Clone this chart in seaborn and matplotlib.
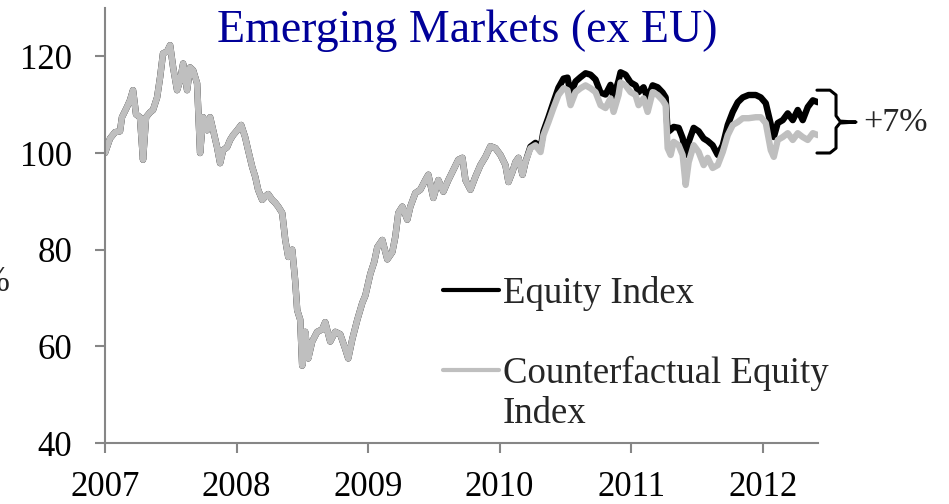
import seaborn as sns
import pandas as pd
import matplotlib.pyplot as plt
from matplotlib.lines import Line2D

# fractional years
years = [
    2007.000, 2007.038, 2007.076, 2007.114, 2007.129, 2007.167, 2007.190, 2007.213, 2007.236, 2007.266,
    2007.289, 2007.312, 2007.342, 2007.365, 2007.396, 2007.419, 2007.441, 2007.472, 2007.495, 2007.518,
    2007.548, 2007.571, 2007.594, 2007.624, 2007.647, 2007.670, 2007.700, 2007.723, 2007.746, 2007.776,
    2007.799, 2007.822, 2007.852, 2007.875, 2007.898, 2007.928, 2007.951, 2007.974, 2008.005, 2008.035,
    2008.065, 2008.088, 2008.119, 2008.142, 2008.164, 2008.195, 2008.218, 2008.240, 2008.271, 2008.294,
    2008.317, 2008.347, 2008.370, 2008.393, 2008.423, 2008.446, 2008.461, 2008.484, 2008.499, 2008.522,
    2008.545, 2008.575, 2008.613, 2008.651, 2008.674, 2008.712, 2008.750, 2008.788, 2008.826, 2008.849,
    2008.880, 2008.918, 2008.956, 2008.979, 2009.017, 2009.047, 2009.070, 2009.108, 2009.146, 2009.184,
    2009.207, 2009.230, 2009.260, 2009.298, 2009.321, 2009.359, 2009.397, 2009.435, 2009.458, 2009.496,
    2009.534, 2009.572, 2009.610, 2009.648, 2009.686, 2009.717, 2009.740, 2009.778, 2009.816, 2009.854,
    2009.892, 2009.930, 2009.968, 2010.006, 2010.044, 2010.067, 2010.097, 2010.120, 2010.143, 2010.174,
    2010.196,
    2010.234, 2010.272, 2010.311, 2010.333, 2010.371, 2010.409, 2010.447, 2010.486, 2010.516, 2010.539,
    2010.577, 2010.615, 2010.653, 2010.691, 2010.729, 2010.767, 2010.805, 2010.843, 2010.866, 2010.904,
    2010.919, 2010.957, 2010.995, 2011.033, 2011.056, 2011.094, 2011.125, 2011.163, 2011.201, 2011.239,
    2011.262, 2011.277, 2011.300, 2011.323, 2011.361, 2011.391, 2011.414, 2011.437, 2011.475, 2011.513,
    2011.551, 2011.581, 2011.619, 2011.658, 2011.696, 2011.734, 2011.772, 2011.810, 2011.848, 2011.893,
    2011.947, 2011.985, 2012.023, 2012.061, 2012.084, 2012.114, 2012.152, 2012.190, 2012.228, 2012.266,
    2012.304, 2012.342, 2012.381, 2012.419,
]

counterfactual = [
    100.0, 103.0, 104.3, 104.5, 107.4, 109.5, 110.9, 113.0, 108.0, 107.4,
    98.6, 107.4, 108.4, 108.9, 111.5, 115.7, 120.6, 121.0, 122.3, 117.7,
    113.0, 115.0, 118.5, 113.0, 117.7, 117.1, 114.4, 100.0, 107.4, 104.7,
    107.4, 104.7, 101.2, 97.9, 100.6, 101.2, 102.7, 103.7, 104.7, 105.8,
    103.3, 100.6, 97.1, 95.1, 92.4, 90.3, 91.0, 91.5, 90.3, 89.7,
    88.9, 87.6, 82.1, 78.5, 80.0, 73.5, 67.5, 65.5, 56.0, 63.0,
    57.5, 61.0, 63.0, 63.5, 65.0, 61.0, 63.0, 62.5, 59.5, 57.5,
    61.5, 65.5, 69.0, 70.5, 75.0, 77.5, 80.5, 82.0, 78.0, 79.5,
    82.7, 87.6, 88.9, 86.2, 88.9, 91.7, 92.4, 94.4, 95.5, 90.7,
    94.4, 92.0, 94.4, 96.5, 98.6, 99.0, 94.4, 92.4, 95.1, 97.5,
    99.2, 101.4, 101.0, 99.6, 97.5, 94.0, 96.1, 98.1, 99.0, 95.5,
    98.1,
    101.0, 101.6, 100.2, 103.7, 106.4, 109.3, 112.0, 113.4, 113.0, 109.9,
    112.6, 113.4, 114.0, 113.4, 112.6, 109.9, 109.3, 111.3, 108.5, 112.0,
    114.6, 114.0, 112.6, 112.0, 109.9, 111.3, 108.5, 112.6, 112.0, 110.9,
    109.9, 101.0, 99.6, 102.3, 101.6, 99.6, 93.4, 98.1, 101.6, 100.2,
    97.5, 99.0, 96.9, 97.5, 100.2, 103.7, 105.8, 106.4, 107.2, 107.2,
    107.4, 107.4, 106.2, 100.6, 99.2, 102.7, 103.3, 104.1, 102.7, 104.1,
    103.3, 102.7, 104.1, 103.7,
]

# equity index separates from the counterfactual from spring 2010 on
equity_tail = [
    101.3, 102.1, 101.0, 104.5, 107.4, 110.5, 113.5, 115.4, 115.6, 112.2,
    114.8, 115.7, 116.5, 116.2, 115.2, 112.5, 112.1, 114.1, 111.5, 115.0,
    116.7, 116.2, 114.6, 114.0, 112.6, 113.6, 111.3, 114.0, 113.6, 112.5,
    111.5, 104.3, 104.8, 105.4, 105.2, 103.1, 99.6, 102.3, 105.2, 104.5,
    103.0, 102.5, 101.6, 99.6, 101.6, 105.8, 108.5, 110.5, 111.5, 112.0,
    112.0, 111.5, 110.3, 106.0, 103.3, 106.2, 106.8, 108.2, 106.8, 108.9,
    106.8, 109.5, 110.9, 110.5,
]

year_ticks = [2007, 2008, 2009, 2010, 2011, 2012]
value_ticks = [40, 60, 80, 100, 120]

split = len(years) - len(equity_tail)
equity = counterfactual[:split] + equity_tail

df = pd.concat([
    pd.DataFrame({"year": years, "value": equity, "series": "Equity Index"}),
    pd.DataFrame({"year": years, "value": counterfactual, "series": "Counterfactual Equity Index"}),
])

sns.set_style("ticks")
plt.rcParams["font.family"] = ["Liberation Serif", "DejaVu Serif"]

gray = "#bfbfbf"
axis_gray = "#868686"

fig = plt.figure(figsize=(9.49, 5.04), dpi=100)
ax = fig.add_axes([105 / 949, 61 / 504, 713 / 949, 435 / 504])

sns.lineplot(data=df, x="year", y="value", hue="series",
             hue_order=["Equity Index", "Counterfactual Equity Index"],
             palette={"Equity Index": "black", "Counterfactual Equity Index": gray},
             estimator=None, sort=False, linewidth=4.6, legend=False, ax=ax)
for ln in ax.get_lines():
    ln.set_solid_joinstyle("round")
    ln.set_solid_capstyle("round")

ax.set_xlim(2007, 2012.42)
ax.set_ylim(40, 130)
ax.set_xticks(year_ticks)
ax.set_xticklabels([str(y) for y in year_ticks])
ax.set_yticks(value_ticks)
ax.set_xlabel("")
ax.set_ylabel("%", rotation=0, fontsize=25, ha="center", va="center")
ax.yaxis.set_label_coords(-0.154, 0.368)

for side in ["top", "right"]:
    ax.spines[side].set_visible(False)
for side in ["left", "bottom"]:
    ax.spines[side].set_color(axis_gray)
    ax.spines[side].set_linewidth(1.5)
ax.tick_params(axis="both", direction="out", length=7, width=1.5,
               color=axis_gray, labelcolor="black", labelsize=25)
ax.tick_params(axis="y", pad=16.5)
ax.tick_params(axis="x", pad=13)

fig.text(467 / 949, 1 - 42 / 504, "Emerging Markets (ex EU)", ha="center",
         va="baseline", fontsize=33, color="#000099")

handles = [Line2D([0], [0], color="black", lw=3),
           Line2D([0], [0], color=gray, lw=3)]
leg = ax.legend(handles, ["Equity Index", "Counterfactual Equity"],
                loc="upper left", bbox_to_anchor=(0.474, 0.385), frameon=False,
                fontsize=26.5, handlelength=1.52, handletextpad=0.1,
                borderpad=0, borderaxespad=0, labelspacing=1.22)

# brace marking the gap at the end of the sample
brace_x = [2012.412, 2012.511, 2012.557, 2012.557, 2012.587, 2012.709,
           2012.587, 2012.557, 2012.557, 2012.511, 2012.412]
brace_y = [113.0, 113.0, 112.0, 107.7, 106.6, 106.4, 106.2, 105.2, 101.0, 100.0, 100.0]
ax.plot(brace_x, brace_y, color="black", lw=2.2, clip_on=False,
        solid_joinstyle="round", solid_capstyle="round")
ax.text(2012.762, 106.3, "+7%", ha="left", va="center", fontsize=24.5, clip_on=False)

fig.canvas.draw()
bb = leg.get_texts()[1].get_window_extent()
fig.text(bb.x0 / fig.bbox.width, bb.y0 / fig.bbox.height - 0.012, "Index",
         ha="left", va="top", fontsize=26.5)

fig.savefig("out.png", dpi=100)
